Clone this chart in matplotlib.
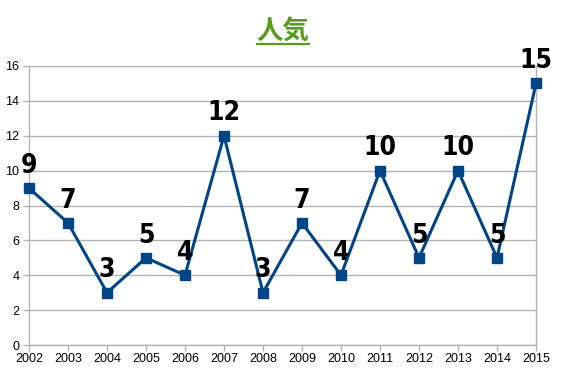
import matplotlib
matplotlib.use("Agg")
import matplotlib.pyplot as plt
from matplotlib.lines import Line2D

# data
years = [2002, 2003, 2004, 2005, 2006, 2007, 2008, 2009, 2010, 2011, 2012, 2013, 2014, 2015]
popularity = [9, 7, 3, 5, 4, 12, 3, 7, 4, 10, 5, 10, 5, 15]
y_ticks = [0, 2, 4, 6, 8, 10, 12, 14, 16]
title = "人気"

plt.rcParams['font.family'] = ['Liberation Sans', 'DejaVu Sans']

fig = plt.figure(figsize=(5.67, 3.78), dpi=100)
ax = fig.add_axes([29 / 567, 1 - 345 / 378, 507 / 567, 279 / 378])

grid_col = "#b3b3b3"
ax.plot(years, popularity, color="#004586", lw=2.2, marker="s", ms=7.5,
        clip_on=False, zorder=3)

for x, y in zip(years, popularity):
    ax.annotate(str(y), (x, y), xytext=(0, 11), textcoords="offset points",
                ha="center", va="baseline", fontsize=19, fontweight="bold",
                fontstretch="condensed", family=["DejaVu Sans"], color="black")

ax.set_xlim(2002, 2015)
ax.set_ylim(0, 16)
ax.set_xticks(years)
ax.set_yticks(y_ticks)
ax.tick_params(axis="both", labelsize=9, color=grid_col, length=4, width=1)
ax.tick_params(axis="x", pad=2)
ax.tick_params(axis="y", pad=3)
ax.yaxis.grid(True, color=grid_col, lw=1)
ax.set_axisbelow(True)
for s in ["left", "bottom", "right"]:
    ax.spines[s].set_color(grid_col)
    ax.spines[s].set_linewidth(1)
ax.spines["top"].set_visible(False)

t = fig.text(283 / 567, 1 - 32 / 378, title, ha="center", va="center",
             fontsize=19, fontweight="bold", color="#579d1c",
             family=["Noto Sans CJK JP", "DejaVu Sans"])

fig.canvas.draw()
bb = t.get_window_extent()
uy = 1 - 44 / 378
fig.add_artist(Line2D([bb.x0 / 567, bb.x1 / 567], [uy, uy], color="#579d1c", lw=1.6))

fig.savefig("out.png", dpi=100)
